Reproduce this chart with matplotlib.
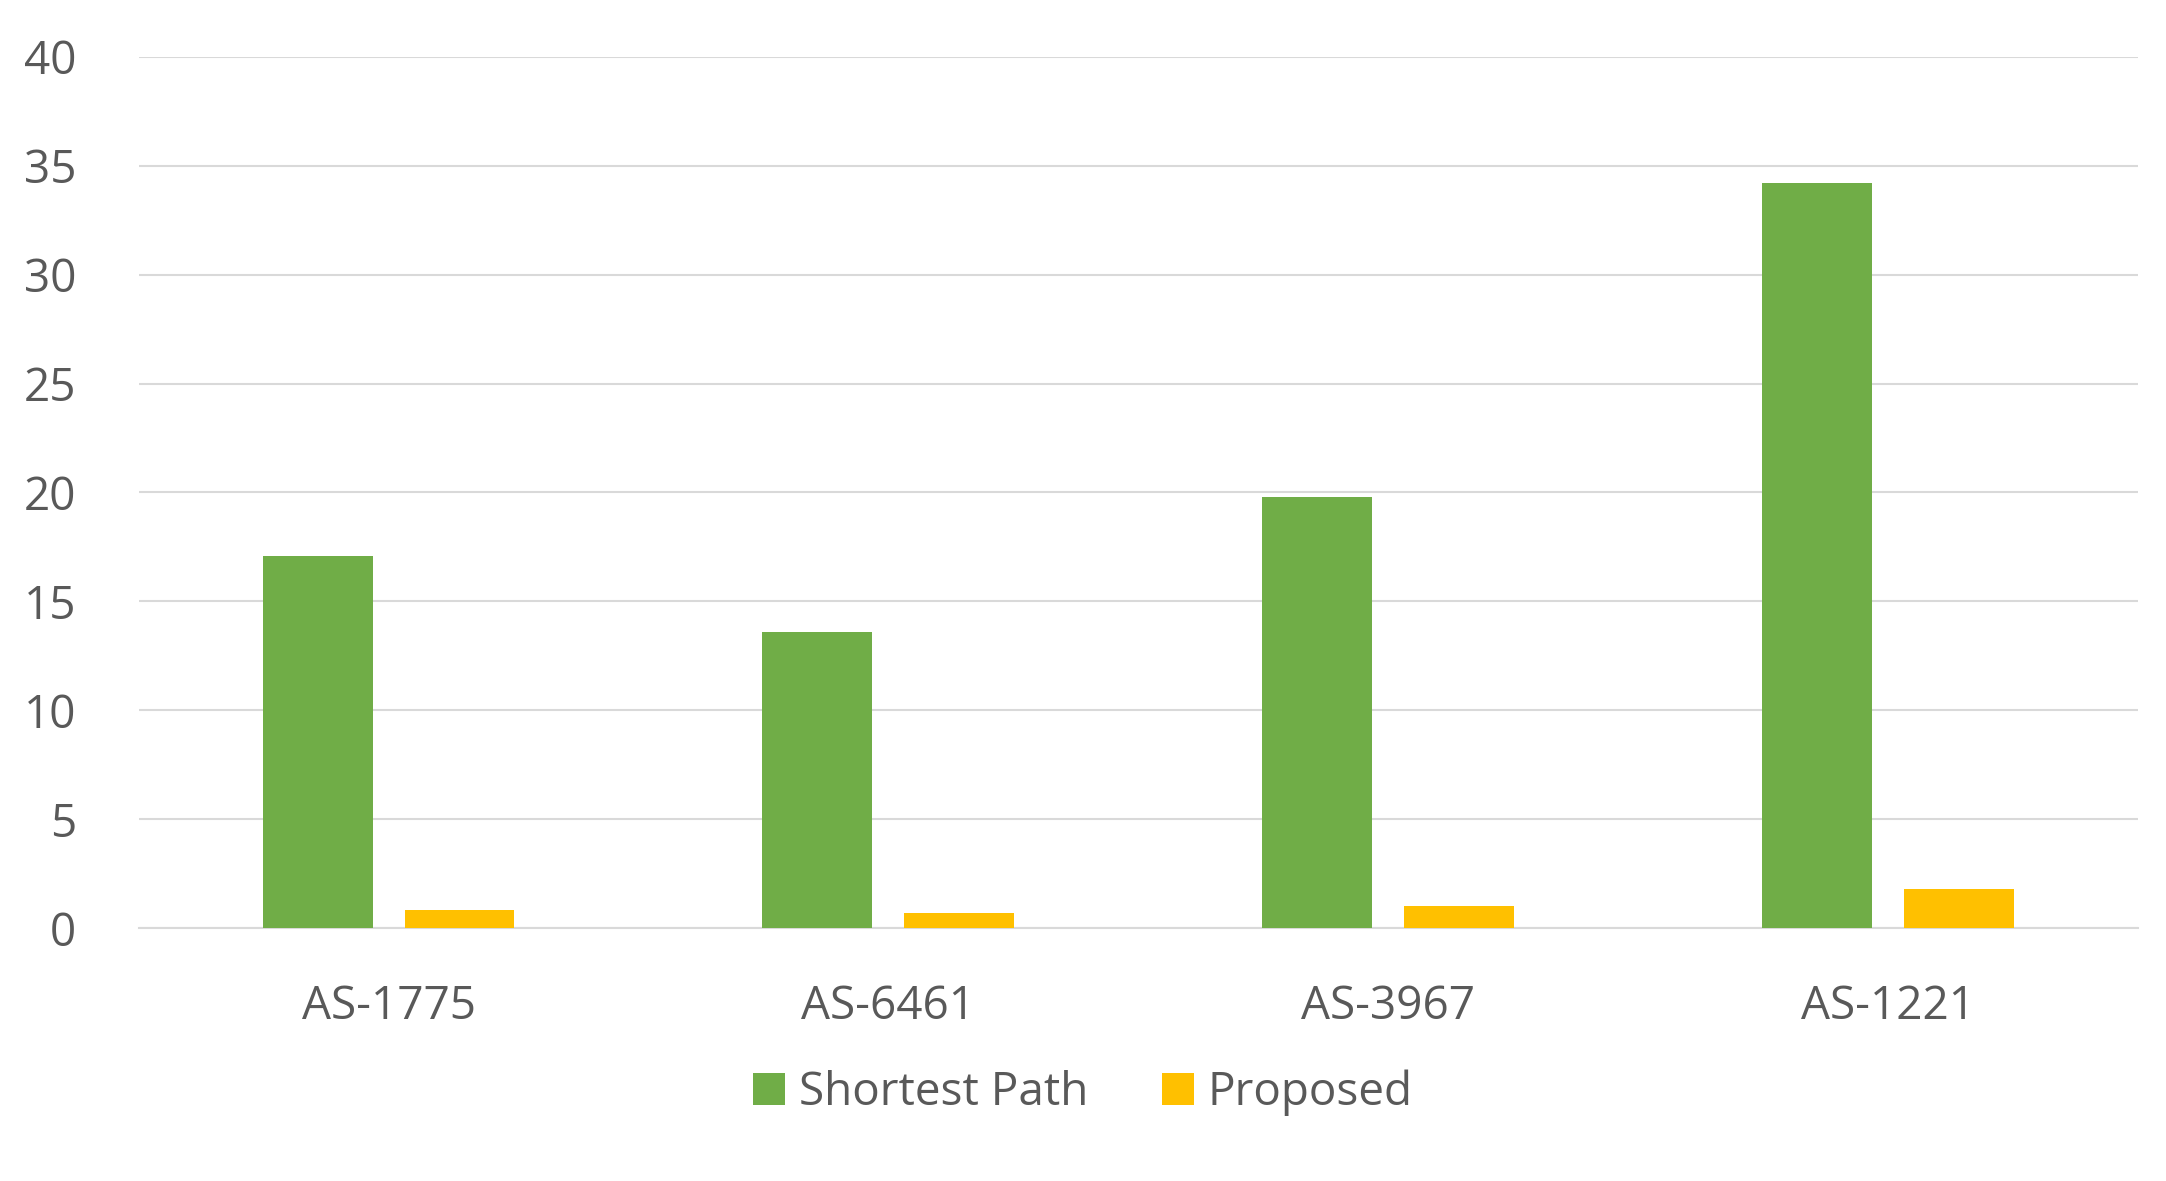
import matplotlib.pyplot as plt
import numpy as np

categories = ['AS-1775', 'AS-6461', 'AS-3967', 'AS-1221']
shortest_path = [17.1, 13.6, 19.8, 34.2]
proposed = [0.85, 0.7, 1.0, 1.8]

plt.rcParams['font.family'] = ['Open Sans', 'DejaVu Sans']
fig = plt.figure(figsize=(21.66, 11.81), dpi=100)
ax = fig.add_axes([0.064, 0.214, 0.923, 0.738])

x = np.arange(len(categories))
w = 0.22
ax.bar(x - 0.142, shortest_path, w, color='#70AD47', label='Shortest Path', zorder=3)
ax.bar(x + 0.142, proposed, w, color='#FFC000', label='Proposed', zorder=3)

ax.set_xlim(-0.5, 3.5)
ax.set_ylim(0, 40)
ax.set_yticks(range(0, 41, 5))
ax.set_xticks(x)
ax.set_xticklabels(categories)
ax.grid(axis='y', color='#D9D9D9', linewidth=1.5, zorder=0)
for s in ['top', 'right', 'left']:
    ax.spines[s].set_visible(False)
ax.spines['bottom'].set_color('#D9D9D9')
ax.spines['bottom'].set_linewidth(1.5)
ax.tick_params(axis='both', length=0, labelsize=33, colors='#595959')
ax.tick_params(axis='x', pad=40)
ax.tick_params(axis='y', pad=45)

fig.legend(loc='lower center', bbox_to_anchor=(0.5, 0.02), ncol=2, frameon=False,
           fontsize=33, labelcolor='#595959', handlelength=0.7, handleheight=0.7,
           columnspacing=1.6, handletextpad=0.3)

fig.savefig('out.png')
